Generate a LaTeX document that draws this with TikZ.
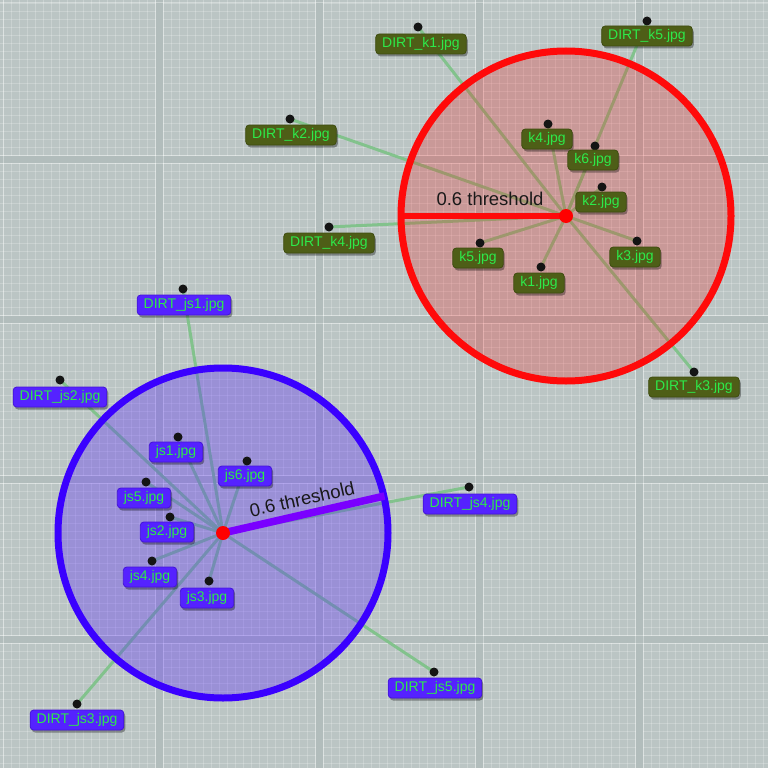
\documentclass[tikz,border=0pt]{standalone}
\usepackage{fontspec}
\setmainfont{Liberation Sans}
\usetikzlibrary{shadows}
\definecolor{bgc}{HTML}{BBC5C4}
\definecolor{gapc}{HTML}{B2BDBC}
\definecolor{olivefill}{HTML}{4E5E17}
\definecolor{oliveedge}{HTML}{3F4C10}
\definecolor{bluefill}{HTML}{5522FF}
\definecolor{blueedge}{HTML}{4415D8}
\definecolor{labtext}{HTML}{2DEA4A}
\definecolor{linkc}{HTML}{7CC286}
\definecolor{redring}{HTML}{FF0A0A}
\definecolor{bluering}{HTML}{3A00FF}
\definecolor{bluethr}{HTML}{7A00FF}
\pgfdeclarelayer{gridlayer}
\pgfdeclarelayer{links}
\pgfdeclarelayer{circ}
\pgfsetlayers{gridlayer,links,circ,main}
\tikzset{
  lab/.style={rounded corners=3.5pt, line width=0.8pt, text=labtext,
    font=\fontsize{14}{16}\selectfont, inner xsep=6.5pt, inner ysep=0pt,
    text height=10.5pt, text depth=3pt, minimum height=20pt,
    drop shadow={shadow xshift=1.5pt, shadow yshift=-2.5pt, opacity=0.35, fill=black}},
  glab/.style={lab, fill=olivefill, draw=oliveedge},
  blab/.style={lab, fill=bluefill, draw=blueedge},
  dotn/.style={circle, fill=black!92, inner sep=0pt, minimum size=9pt},
  ctr/.style={circle, fill=red, inner sep=0pt, minimum size=14pt},
  link/.style={draw=linkc, line width=3pt, opacity=0.9},
  thrtext/.style={font=\fontsize{18.5}{20}\selectfont, text=black!90, inner sep=0pt},
  fineline/.style={draw=white, opacity=0.22, line width=0.8pt},
  cellborder/.style={draw=white, opacity=0.35, line width=1pt}
}
\begin{document}
\begin{tikzpicture}[x=1pt,y=-1pt]
\useasboundingbox (0,0) rectangle (768,768);
\begin{pgfonlayer}{gridlayer}
\fill[bgc] (0,0) rectangle (768,768);
\foreach \k in {0,...,95} {
  \draw[fineline] ({3+8*\k},0) -- ({3+8*\k},768);
  \draw[fineline] (0,{3+8*\k}) -- (768,{3+8*\k});
}
\foreach \i in {0,...,4} {
  \fill[gapc] ({156+160*\i},0) rectangle ({162.5+160*\i},768);
  \fill[gapc] (0,{156+160*\i}) rectangle (768,{162.5+160*\i});
}
\foreach \i in {0,...,4} {
  \draw[cellborder] ({3+160*\i},0) -- ({3+160*\i},768);
  \draw[cellborder] ({155+160*\i},0) -- ({155+160*\i},768);
  \draw[cellborder] (0,{3+160*\i}) -- (768,{3+160*\i});
  \draw[cellborder] (0,{155+160*\i}) -- (768,{155+160*\i});
}
\end{pgfonlayer}

% ---------- red cluster ----------
\node[ctr] (rc) at (566,216) {};
\node[dotn] (dK1) at (418,27) {};
\node[dotn] (dK5) at (647,21) {};
\node[dotn] (dk4) at (548,124) {};
\node[dotn] (dk6) at (595,146) {};
\node[dotn] (dk2) at (602,187) {};
\node[dotn] (dk3) at (637,241) {};
\node[dotn] (dk1) at (541,267) {};
\node[dotn] (dk5) at (480,243) {};
\node[dotn] (dK2) at (290,119) {};
\node[dotn] (dK4) at (329,227) {};
\node[dotn] (dK3) at (694,372) {};

\node[glab] (lK1) at (421,44) {DIRT\_k1.jpg};
\node[glab] (lK5) at (647,36) {DIRT\_k5.jpg};
\node[glab] (lk4) at (547,139) {k4.jpg};
\node[glab] (lk6) at (593,160) {k6.jpg};
\node[glab] (lk2) at (601,202) {k2.jpg};
\node[glab] (lk3) at (635,257) {k3.jpg};
\node[glab] (lk1) at (539,283) {k1.jpg};
\node[glab] (lk5) at (478,258) {k5.jpg};
\node[glab] (lK2) at (291,135) {DIRT\_k2.jpg};
\node[glab] (lK4) at (329,243) {DIRT\_k4.jpg};
\node[glab] (lK3) at (694,387) {DIRT\_k3.jpg};

\node[thrtext] (rthr) at (490,199) {0.6 threshold};
\coordinate (redge) at (401,216);

% ---------- blue cluster ----------
\node[ctr] (bc) at (223,533) {};
\node[dotn] (dJ1) at (183,289) {};
\node[dotn] (dJ2) at (60,380) {};
\node[dotn] (dj1) at (178,437) {};
\node[dotn] (dj6) at (247,461) {};
\node[dotn] (dj5) at (146,482) {};
\node[dotn] (dj2) at (170,517) {};
\node[dotn] (dj4) at (152,561) {};
\node[dotn] (dj3) at (209,581) {};
\node[dotn] (dJ4) at (469,487) {};
\node[dotn] (dJ3) at (77,704) {};
\node[dotn] (dJ5) at (434,672) {};

\node[blab] (lJ1) at (184,305) {DIRT\_js1.jpg};
\node[blab] (lJ2) at (60,397) {DIRT\_js2.jpg};
\node[blab] (lj1) at (176,452) {js1.jpg};
\node[blab] (lj6) at (245,476) {js6.jpg};
\node[blab] (lj5) at (144,498) {js5.jpg};
\node[blab] (lj2) at (167,532) {js2.jpg};
\node[blab] (lj4) at (150,577) {js4.jpg};
\node[blab] (lj3) at (207,598) {js3.jpg};
\node[blab] (lJ4) at (470,504) {DIRT\_js4.jpg};
\node[blab] (lJ3) at (77,720) {DIRT\_js3.jpg};
\node[blab] (lJ5) at (435,688) {DIRT\_js5.jpg};

\node[thrtext, rotate=12.6] (bthr) at (302,499) {0.6 threshold};
\coordinate (bedge) at (384.5,496);

% ---------- links ----------
\begin{pgfonlayer}{links}
\foreach \t in {dK1,dK5,dk4,dk6,dk2,dk3,dk1,dk5,dK2,dK4,dK3}
  \draw[link] (rc.center) -- (\t.center);
\foreach \t in {dJ1,dJ2,dj1,dj6,dj5,dj2,dj4,dj3,dJ4,dJ3,dJ5}
  \draw[link] (bc.center) -- (\t.center);
\end{pgfonlayer}

% ---------- circles ----------
\begin{pgfonlayer}{circ}
\fill[red, opacity=0.22] (rc.center) circle[radius=165pt];
\draw[redring, line width=7pt] (rc.center) circle[radius=165pt];
\draw[redring, line width=6.5pt] (rc.center) -- (redge);
\fill[bluefill, opacity=0.32] (bc.center) circle[radius=165pt];
\draw[bluering, line width=7pt] (bc.center) circle[radius=165pt];
\draw[bluethr, line width=7.5pt] (bc.center) -- (bedge);
\end{pgfonlayer}
\end{tikzpicture}
\end{document}
